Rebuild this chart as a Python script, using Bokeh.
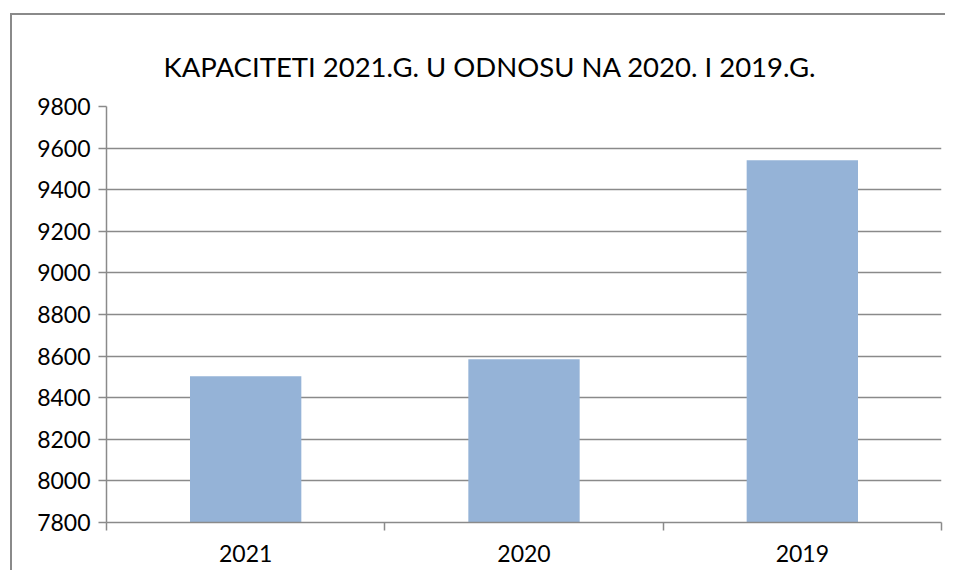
from bokeh.plotting import figure
from bokeh.models import FixedTicker, Range1d
from bokeh.embed import file_html
from bokeh.resources import INLINE

categories = ["2021", "2020", "2019"]
values = [8503, 8585, 9542]
y_ticks = [7800, 8000, 8200, 8400, 8600, 8800, 9000, 9200, 9400, 9600, 9800]

GRAY = "#8a8a8a"
FONT = "Lato"

xs = [i + 0.5 for i in range(len(categories))]

p = figure(width=945, height=570, output_backend="svg", toolbar_location=None,
           x_range=Range1d(0, len(categories)), y_range=Range1d(7800, 9800),
           title="KAPACITETI 2021.G. U ODNOSU NA 2020. I 2019.G.")

# chart-area border: left and top edges (right/bottom lie outside the window)
p.border_fill_color = None
p.styles = {
    "background-color": "white",
    "background-image": f"linear-gradient({GRAY}, {GRAY}), linear-gradient({GRAY}, {GRAY})",
    "background-size": "2px 100%, 100% 2px",
    "background-position": "10px 13px, 10px 13px",
    "background-repeat": "no-repeat",
}

p.vbar(x=xs, top=values, bottom=7800, width=0.4, fill_color="#95B3D7", line_color=None)

p.min_border_left = 106
p.min_border_right = 4
p.min_border_top = 106
p.min_border_bottom = 48
p.outline_line_color = None

p.title.text_font = FONT
p.title.text_font_size = "27.5px"
p.title.text_font_style = "normal"
p.title.text_color = "black"
p.title.align = "left"
p.title.offset = 57
p.title.standoff = 47

# y axis
p.yaxis.ticker = FixedTicker(ticks=y_ticks)
p.yaxis.axis_line_color = GRAY
p.yaxis.axis_line_width = 1.5
p.yaxis.major_tick_line_color = GRAY
p.yaxis.major_tick_line_width = 1.5
p.yaxis.major_tick_out = 8
p.yaxis.major_tick_in = 0
p.yaxis.minor_tick_line_color = None
p.yaxis.major_label_text_font = FONT
p.yaxis.major_label_text_font_size = "23px"
p.yaxis.major_label_text_color = "black"
p.yaxis.major_label_standoff = 8

# x axis with boundary ticks
p.xaxis.ticker = FixedTicker(ticks=xs, minor_ticks=list(range(len(categories) + 1)))
p.xaxis.major_label_overrides = {x: c for x, c in zip(xs, categories)}
p.xaxis.axis_line_color = GRAY
p.xaxis.axis_line_width = 1.5
p.xaxis.major_tick_line_color = None
p.xaxis.minor_tick_line_color = GRAY
p.xaxis.minor_tick_line_width = 1.5
p.xaxis.minor_tick_out = 8
p.xaxis.minor_tick_in = 0
p.xaxis.major_label_text_font = FONT
p.xaxis.major_label_text_font_size = "23px"
p.xaxis.major_label_text_color = "black"
p.xaxis.major_label_standoff = 14

p.xgrid.grid_line_color = None
p.ygrid.ticker = FixedTicker(ticks=y_ticks)
p.ygrid.grid_line_color = GRAY
p.ygrid.grid_line_width = 1.5

open("out.html", "w").write(file_html(p, INLINE))
